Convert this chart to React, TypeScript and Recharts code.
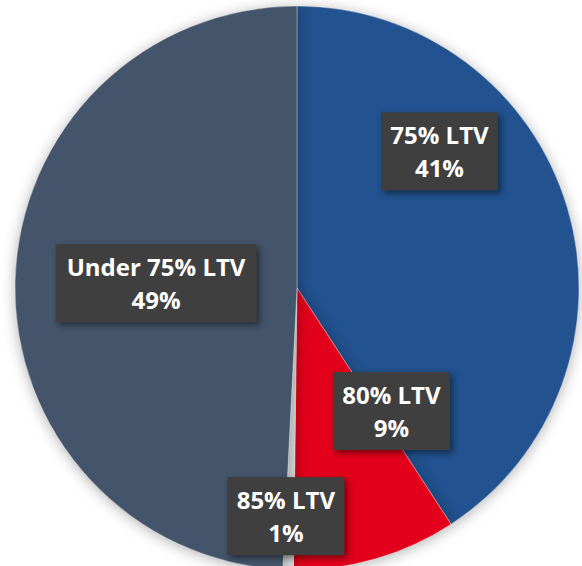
import { Cell, Pie, PieChart } from 'recharts';

const categories = ['75% LTV', '80% LTV', '85% LTV', 'Under 75% LTV'];
const shares = [40.8, 9.4, 0.6, 49.2];
const shareLabels = ['41%', '9%', '1%', '49%'];

const sliceColors = ['#22528F', '#E2001A', '#D6D6D6', '#44546A'];

// where Excel left each label: angle (deg, ccw from 3 o'clock) and fraction of the radius
const labelSpots = [
  { angle: 43.8, r: 0.7 },
  { angle: -52.5, r: 0.55 },
  { angle: -92.8, r: 0.81 },
  { angle: 178, r: 0.5 }
];

const data = categories.map((name, i) => ({ name, value: shares[i], pct: shareLabels[i] }));

type LabelProps = {
  cx: number;
  cy: number;
  outerRadius: number;
  index: number;
};

function BoxLabel({ cx, cy, outerRadius, index }: LabelProps): React.ReactElement {
  const spot = labelSpots[index];
  const rad = (spot.angle * Math.PI) / 180;
  const x = cx + Math.cos(rad) * outerRadius * spot.r;
  const y = cy - Math.sin(rad) * outerRadius * spot.r;
  const name = categories[index];
  const w = 19 + name.length * 14;
  const h = 78;
  return (
    <g>
      <rect
        x={x - w / 2}
        y={y - h / 2}
        width={w}
        height={h}
        fill="#3F3F3F"
        style={{ filter: 'drop-shadow(3px 3px 3px rgba(0,0,0,0.45))' }}
      />
      <text
        x={x}
        y={y - 7}
        textAnchor="middle"
        fill="#FFFFFF"
        fontFamily="'Open Sans', sans-serif"
        fontWeight={700}
        fontSize={24}
      >
        {name}
      </text>
      <text
        x={x}
        y={y + 26}
        textAnchor="middle"
        fill="#FFFFFF"
        fontFamily="'Open Sans', sans-serif"
        fontWeight={700}
        fontSize={24}
      >
        {shareLabels[index]}
      </text>
    </g>
  );
}

export default function App(): React.ReactElement {
  return (
    <div style={{ position: 'absolute', left: 0, top: 0, width: 582, height: 566, background: '#FFFFFF' }}>
      <PieChart width={582} height={566} margin={{ top: 0, right: 0, bottom: 0, left: 0 }}>
        <Pie
          data={data}
          dataKey="value"
          nameKey="name"
          cx={297}
          cy={288}
          outerRadius={282}
          startAngle={90}
          endAngle={-270}
          stroke="rgba(255,255,255,0.35)"
          strokeWidth={1}
          labelLine={false}
          label={(p: any) => <BoxLabel cx={p.cx} cy={p.cy} outerRadius={p.outerRadius} index={p.index} />}
          isAnimationActive={false}
          style={{ filter: 'drop-shadow(0px 2px 7px rgba(0,0,0,0.3))' }}
        >
          {data.map((d, i) => (
            <Cell key={d.name} fill={sliceColors[i]} />
          ))}
        </Pie>
      </PieChart>
    </div>
  );
}
